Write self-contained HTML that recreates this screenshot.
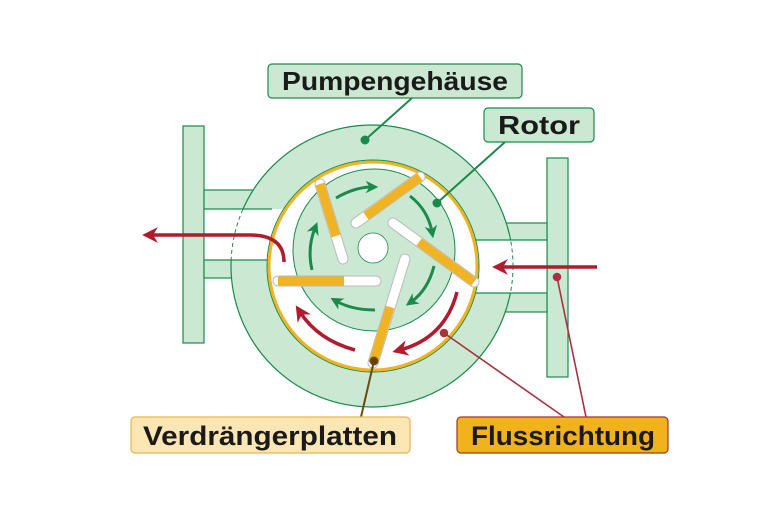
<!DOCTYPE html>
<html><head><meta charset="utf-8"><style>
html,body{margin:0;padding:0;background:#fff;width:768px;height:512px;overflow:hidden}
svg{display:block}
text{font-family:"Liberation Sans Narrow","Liberation Sans",sans-serif;font-weight:bold;fill:#1a1a1a}
</style></head><body>
<svg width="768" height="512" viewBox="0 0 768 512">
<defs>
<marker id="ag" viewBox="0 0 10 10" refX="5" refY="5" markerWidth="4.2" markerHeight="4.2" orient="auto"><path d="M0,0 L10,5 L0,10 L3,5 z" fill="#1a8a4a"/></marker>
<marker id="ar" viewBox="0 0 10 10" refX="5" refY="5" markerWidth="4.5" markerHeight="4.5" orient="auto"><path d="M0,0 L10,5 L0,10 L3,5 z" fill="#b01c2e"/></marker>
<clipPath id="gaps"><rect x="200" y="209" width="80" height="51"/><rect x="470" y="240" width="80" height="53"/></clipPath>
</defs>
<g stroke="#1a8a4a" stroke-width="1.2" fill="#cbe8d3">
<rect x="183" y="126" width="21" height="217"/>
<rect x="204" y="190" width="60" height="88"/>
<rect x="547" y="158" width="21" height="219"/>
<rect x="480" y="223" width="67" height="89"/>
<circle cx="372" cy="266" r="141"/>
</g>
<rect x="204.6" y="209" width="80" height="51" fill="#fff"/>
<rect x="470" y="240" width="76.4" height="53" fill="#fff"/>
<g stroke="#1a8a4a" stroke-width="1.2">
<line x1="204" y1="209" x2="272" y2="209"/><line x1="204" y1="260" x2="270" y2="260"/>
<line x1="474" y1="240" x2="547" y2="240"/><line x1="476" y1="293" x2="547" y2="293"/>
</g>
<circle cx="372" cy="266" r="141" fill="none" stroke="#1a8a4a" stroke-width="1" stroke-dasharray="4 3" clip-path="url(#gaps)"/>
<circle cx="373" cy="266" r="106" fill="none" stroke="#1a8a4a" stroke-width="1"/>
<circle cx="373" cy="266" r="104" fill="#fff" stroke="#f0b323" stroke-width="3"/>
<circle cx="374" cy="250" r="81" fill="#cbe8d3" stroke="#1a8a4a" stroke-width="1"/>
<circle cx="373" cy="248" r="15" fill="#fff" stroke="#1a8a4a" stroke-width="0.8"/>
<g stroke-linecap="round">
<g stroke="#bbb" stroke-width="11">
<line x1="343" y1="259" x2="320" y2="184"/>
<line x1="356" y1="223" x2="420" y2="177"/>
<line x1="393" y1="223" x2="474" y2="282"/>
<line x1="405" y1="259" x2="373" y2="363"/>
<line x1="376" y1="281" x2="278" y2="281"/>
</g>
<g stroke="#fff" stroke-width="9">
<line x1="343" y1="259" x2="320" y2="184"/>
<line x1="356" y1="223" x2="420" y2="177"/>
<line x1="393" y1="223" x2="474" y2="282"/>
<line x1="405" y1="259" x2="373" y2="363"/>
<line x1="376" y1="281" x2="278" y2="281"/>
</g>
<g stroke="#f0b323" stroke-width="9" stroke-linecap="butt">
<line x1="336" y1="236" x2="320" y2="184"/>
<line x1="366" y1="216" x2="420" y2="177"/>
<line x1="419" y1="242" x2="474" y2="282"/>
<line x1="390" y1="307" x2="373" y2="363"/>
<line x1="344" y1="281" x2="278" y2="281"/>
</g>
</g>
<g fill="none" stroke="#1a8a4a" stroke-width="3" marker-end="url(#ag)">
<path d="M336,198 Q355,187 372,187"/>
<path d="M410,196 Q428,210 432,232"/>
<path d="M434,266 Q428,290 411,302"/>
<path d="M375,310 Q352,310 336,301"/>
<path d="M312,270 Q307,248 315,228"/>
</g>
<g fill="none" stroke="#b01c2e" stroke-width="3.5">
<path d="M597,267 L500,267" marker-end="url(#ar)"/>
<path d="M284,262 Q284,235 250,235 L150,235" marker-end="url(#ar)"/>
<path d="M457,292 Q445,338 400,350" marker-end="url(#ar)"/>
<path d="M355,350 Q318,340 300,312" marker-end="url(#ar)"/>
</g>
<g stroke="#1a8a4a" stroke-width="2" fill="#1a8a4a">
<line x1="412" y1="98" x2="365" y2="140"/><circle cx="365" cy="140" r="3.5"/>
<line x1="505" y1="142" x2="437" y2="203"/><circle cx="437" cy="203" r="3.5"/>
</g>
<g stroke="#6b4a10" stroke-width="2" fill="#6b3a10">
<line x1="374" y1="361" x2="361" y2="417"/><circle cx="374" cy="361" r="3.5"/>
</g>
<g stroke="#a8323e" stroke-width="1.6" fill="#a8323e">
<line x1="444" y1="333" x2="564" y2="417"/><circle cx="444" cy="333" r="3.5"/>
<line x1="557" y1="277" x2="586" y2="417"/><circle cx="557" cy="277" r="3.5"/>
</g>
<rect x="268" y="64" width="254" height="34" rx="4" fill="#cbe8d3" stroke="#1a8a4a" stroke-width="1.2"/>
<text x="282" y="90" font-size="26" textLength="226" lengthAdjust="spacingAndGlyphs">Pumpengehäuse</text>
<rect x="484" y="108" width="110" height="34" rx="4" fill="#cbe8d3" stroke="#1a8a4a" stroke-width="1.2"/>
<text x="498" y="134" font-size="26" textLength="82" lengthAdjust="spacingAndGlyphs">Rotor</text>
<rect x="131" y="417" width="279" height="36" rx="4" fill="#fbe6b4" stroke="#e8b84a" stroke-width="1.2"/>
<text x="143" y="445" font-size="27" textLength="254" lengthAdjust="spacingAndGlyphs">Verdrängerplatten</text>
<rect x="457" y="417" width="211" height="36" rx="4" fill="#f2b21c" stroke="#9a3a20" stroke-width="1.2"/>
<text x="471" y="445" font-size="27" textLength="184" lengthAdjust="spacingAndGlyphs">Flussrichtung</text>
</svg>
</body></html>
